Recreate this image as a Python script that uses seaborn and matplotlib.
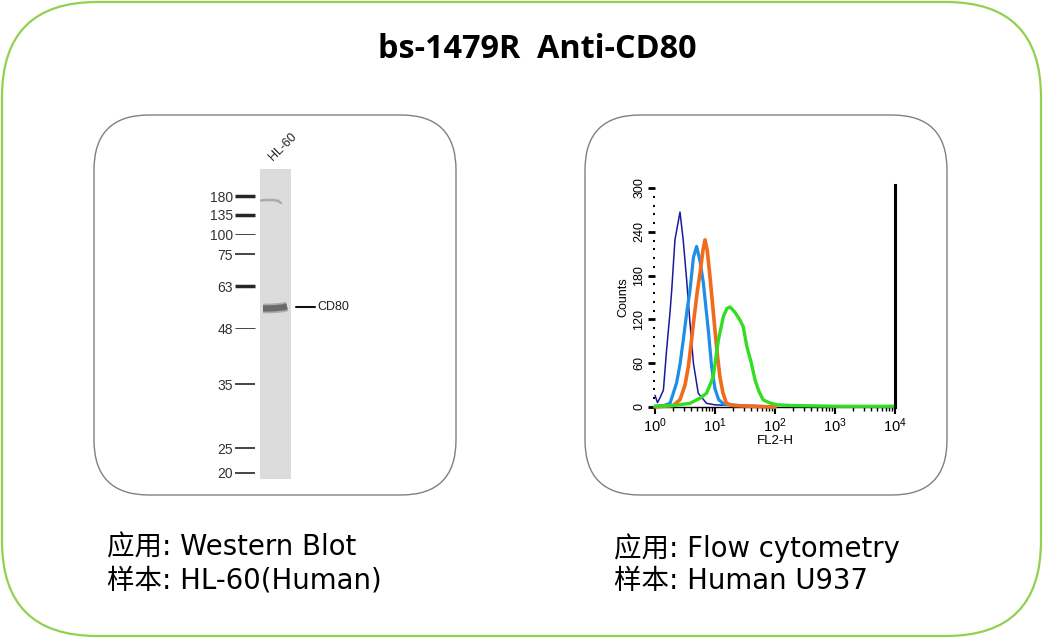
import numpy as np
import pandas as pd
import seaborn as sns
import matplotlib.pyplot as plt
from matplotlib.patches import FancyBboxPatch
from matplotlib.ticker import FixedLocator, MultipleLocator, LogLocator, NullFormatter

sns.set_theme(style="white")
plt.rcParams["font.family"] = ["Liberation Sans", "DejaVu Sans"]
plt.rcParams["mathtext.default"] = "regular"
plt.rcParams["text.color"] = "black"
plt.rcParams["axes.labelcolor"] = "black"
plt.rcParams["xtick.labelcolor"] = "black"
plt.rcParams["ytick.labelcolor"] = "black"

# ---- western blot data ----
marker_kda = ["180", "135", "100", "75", "63", "48", "35", "25", "20"]
marker_mig = [27, 46, 65, 85, 117, 159, 215, 279, 304]      # migration from lane top
marker_lw = [2.5, 2.5, 0.6, 1.2, 2.5, 0.6, 1.2, 1.2, 1.2]
marker_col = ["#111", "#111", "#bbb", "#333", "#111", "#bbb", "#333", "#333", "#333"]
band_x = [8, 12, 20, 28, 32]
band_main = [139.5, 139.5, 139.2, 138.4, 137.4]
band_faint_x = [6, 12, 18, 23, 26]
band_faint = [31.5, 31.0, 31.0, 31.8, 34.0]
lane_name = "HL-60"
target = "CD80"

# ---- flow cytometry data (FL2-H vs counts) ----
navy_fl = [1.00, 1.10, 1.20, 1.38, 1.56, 1.78, 1.90, 2.15, 2.61, 2.95, 3.37, 3.83, 4.37, 5.25, 7.24, 10.0, 20.0, 50.1, 100]
navy_ct = [16, 6, 12, 23, 78, 130, 160, 229, 267, 229, 174, 115, 60, 19, 5, 3, 2, 1, 0]
blue_fl = [1.0, 1.41, 1.78, 2.29, 2.63, 2.96, 3.39, 3.83, 4.37, 4.94, 5.62, 6.40, 7.08, 7.74, 8.79, 10.0, 11.5, 14.1, 25.1, 100]
blue_ct = [1, 2, 5, 33, 60, 92, 130, 160, 205, 220, 200, 170, 135, 105, 55, 25, 10, 4, 2, 0]
orange_fl = [1.0, 2.0, 2.61, 3.16, 3.59, 3.98, 4.37, 5.01, 5.62, 6.31, 6.81, 7.41, 8.26, 9.12, 10.0, 11.0, 12.1, 13.5, 15.5, 20.0, 39.8, 100]
orange_ct = [0, 2, 10, 30, 55, 85, 115, 155, 183, 215, 229, 215, 178, 140, 105, 70, 41, 20, 5, 2, 1, 0]
green_fl = [1.0, 2.0, 3.80, 5.62, 7.24, 9.33, 11.4, 13.8, 15.8, 17.8, 21.4, 26.1, 29.5, 33.9, 39.8, 46.5, 53.7, 63.1, 79.4, 107, 200, 1000, 10000]
green_ct = [1, 2, 5, 12, 19, 41, 92, 124, 135, 137, 130, 119, 110, 83, 62, 37, 22, 10, 6, 3, 2, 1, 1]

W, H = 1043, 638
fig = plt.figure(figsize=(W / 100, H / 100), dpi=100)


def frame(x0, y0, x1, y1, r, color, lw):
    # pixel box -> inches, so corners stay round
    p = FancyBboxPatch((x0 / 100, (H - y1) / 100), (x1 - x0) / 100, (y1 - y0) / 100,
                       boxstyle=f"round,pad=0,rounding_size={r / 100}",
                       transform=fig.dpi_scale_trans, fc="none", ec=color, lw=lw)
    fig.patches.append(p)


frame(2, 2, 1041, 636, 95, "#92d050", 1.6)
frame(94, 115, 456, 495, 55, "#808080", 1.0)
frame(585, 115, 947, 495, 55, "#808080", 1.0)

fig.text(537 / W, 1 - 50 / H, "bs-1479R  Anti-CD80", ha="center", va="center",
         fontsize=23.3, fontweight="bold", family=["Open Sans", "DejaVu Sans"])

cjk = ["DejaVu Sans", "Noto Sans CJK SC"]
fig.text(107 / W, 1 - 548 / H, "应用: Western Blot", va="center", fontsize=19.8, family=cjk)
fig.text(107 / W, 1 - 581 / H, "样本: HL-60(Human)", va="center", fontsize=19.8, family=cjk)
fig.text(614 / W, 1 - 548 / H, "应用: Flow cytometry", va="center", fontsize=19.8, family=cjk)
fig.text(614 / W, 1 - 581 / H, "样本: Human U937", va="center", fontsize=19.8, family=cjk)

# ---- western blot panel ----
ax = fig.add_axes([255 / W, 1 - 479 / H, 36 / W, 310 / H])
ax.set_xlim(0, 36)
ax.set_ylim(310, 0)
ax.set_facecolor("none")
for s in ax.spines.values():
    s.set_visible(False)
ax.axvspan(5, 36, color="#dcdcdc", lw=0)
ax.plot(band_x, band_main, color="#ababab", lw=7, solid_capstyle="butt")
ax.plot(band_x, band_main, color="#6a6a6a", lw=4.5, solid_capstyle="butt")
ax.plot(band_faint_x, band_faint, color="#ababab", lw=1.8, solid_capstyle="round")
ax.set_xticks([])
ax.yaxis.set_major_locator(FixedLocator(marker_mig))
ax.set_yticklabels(marker_kda)
ax.tick_params(axis="y", left=True, length=14.4, pad=1.5, labelsize=10, labelcolor="#333333")
for t, w, c in zip(ax.yaxis.get_major_ticks(), marker_lw, marker_col):
    t.tick1line.set_markeredgewidth(w)
    t.tick1line.set_color(c)
ax.plot([41, 60], [band_main[2] - 1.5] * 2, color="#111", lw=1.5, clip_on=False)
ax.text(62, band_main[2] - 1.5, target, va="center", fontsize=9, color="#222")
ax.text(20, -6, lane_name, rotation=45, rotation_mode="anchor", ha="left", va="bottom",
        fontsize=9, color="#222")

# ---- flow cytometry panel ----
fx = fig.add_axes([655 / W, 1 - 407 / H, 240 / W, 219 / H])
curves = [("navy", navy_fl, navy_ct, "#1c1a9a", 1.1),
          ("blue", blue_fl, blue_ct, "#1e8ee6", 2.3),
          ("orange", orange_fl, orange_ct, "#f26a1b", 2.6),
          ("green", green_fl, green_ct, "#33dd22", 2.4)]
for name, fl, ct, col, lw in curves:
    df = pd.DataFrame({"FL2-H": fl, "Counts": ct})
    sns.lineplot(data=df, x="FL2-H", y="Counts", ax=fx, color=col, lw=lw,
                 estimator=None, sort=False, clip_on=False)
fx.set_xscale("log")
fx.set_xlim(1, 1e4)
fx.set_ylim(0, 300)
fx.set_facecolor("none")
fx.spines["top"].set_visible(False)
fx.spines["left"].set_visible(False)
fx.spines["right"].set_linewidth(2.2)
fx.spines["right"].set_color("black")
fx.spines["right"].set_bounds(0, 304)
fx.spines["bottom"].set_linewidth(1.0)
fx.spines["bottom"].set_color("black")
fx.spines["bottom"].set_zorder(0)
fx.yaxis.set_major_locator(MultipleLocator(60))
fx.yaxis.set_minor_locator(MultipleLocator(12))
fx.xaxis.set_major_locator(LogLocator(base=10, numticks=10))
fx.xaxis.set_minor_locator(LogLocator(base=10, subs=np.arange(2, 10), numticks=10))
fx.xaxis.set_minor_formatter(NullFormatter())
fx.tick_params(axis="y", which="major", left=True, length=5, width=2, pad=2,
               labelsize=9, labelrotation=90, color="black")
fx.tick_params(axis="y", which="minor", left=True, length=1.5, width=1.5, color="black")
fx.tick_params(axis="x", which="major", bottom=True, length=5, width=1.5, pad=2,
               labelsize=10.5, color="black")
fx.tick_params(axis="x", which="minor", bottom=True, length=3, width=1, color="black")
for lab in fx.get_yticklabels():
    lab.set_va("center")
fx.set_xlabel("FL2-H", fontsize=9.5, labelpad=0)
fx.set_ylabel("Counts", fontsize=9, labelpad=3)
fx.grid(False)

fig.savefig("out.png", dpi=100)
